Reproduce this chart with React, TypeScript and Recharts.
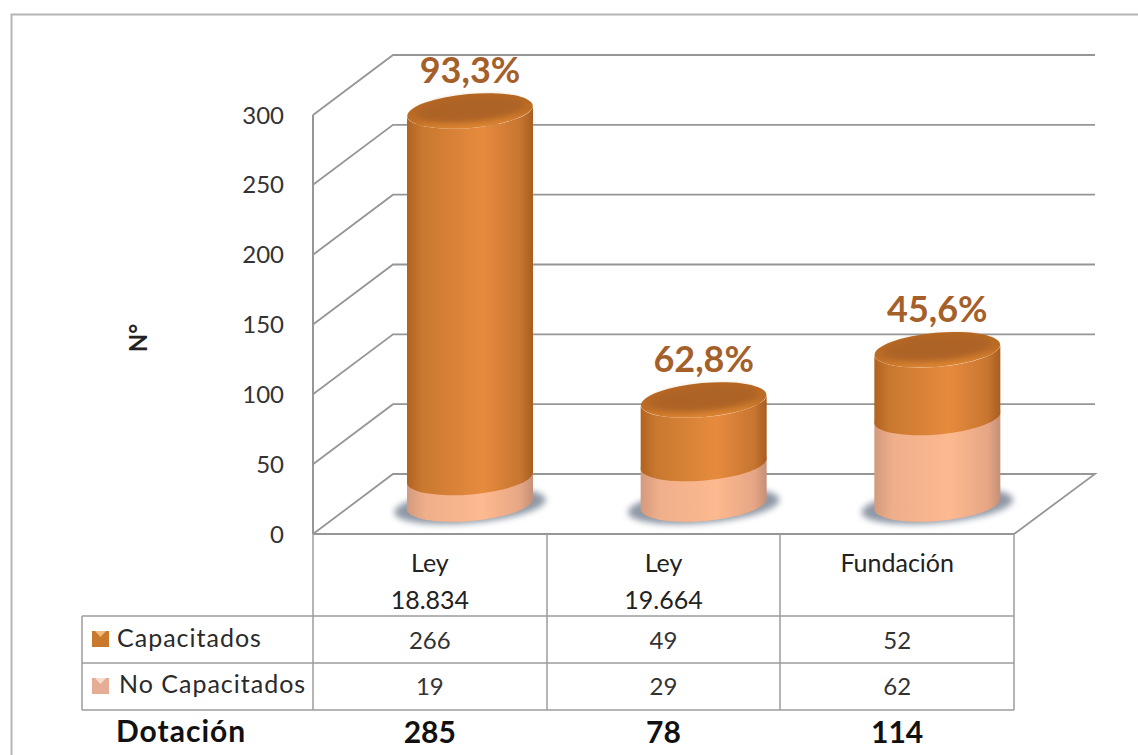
import { BarChart, Bar, XAxis, YAxis, CartesianGrid, LabelList } from "recharts";

const categories = ["Ley 18.834", "Ley 19.664", "Fundación"];
const capacitados = [266, 49, 52];
const noCapacitados = [19, 29, 62];
const dotacion = [285, 78, 114];
const porcentajes = ["93,3%", "62,8%", "45,6%"];
const yTicks = [0, 50, 100, 150, 200, 250, 300];

const data = categories.map((name, i) => ({
  name,
  capacitados: capacitados[i],
  noCapacitados: noCapacitados[i],
  pct: porcentajes[i],
}));

const FONT = "Lato, 'Open Sans', sans-serif";
const GRID = "#969696";
const TABLE = "#9c9c9c";
// depth of the fake 3D box, and where the cylinders stand inside it
const BACK_DX = 80;
const BACK_DY = -60;
const BAR_DX = 40;
const BAR_DY = -30;
const CAP_DROP = 5;
const RY = 17;
const TILT = -5;

function Cylinder(props: any) {
  const { x, y, width, height, isTop } = props;
  const cx = x + width / 2 + BAR_DX;
  const rx = width / 2;
  const top = y + BAR_DY + (isTop ? CAP_DROP : 0);
  const bottom = y + height + BAR_DY;
  const lift = rx * Math.sin((TILT * Math.PI) / 180);
  const lx = cx - rx;
  const rightX = cx + rx;
  const arc = `A ${rx} ${RY} ${TILT} 0`;
  const side = `M ${lx} ${top - lift} L ${lx} ${bottom - lift} ${arc} 0 ${rightX} ${bottom + lift} L ${rightX} ${top + lift} ${arc} ${isTop ? 1 : 0} ${lx} ${top - lift} Z`;
  return (
    <g>
      {!isTop && (
        <ellipse
          cx={cx}
          cy={bottom + 2}
          rx={rx + 13}
          ry={RY}
          transform={`rotate(${TILT} ${cx} ${bottom + 2})`}
          fill="#8f98a6"
          filter="url(#soft)"
        />
      )}
      <path d={side} fill={isTop ? "url(#orangeSide)" : "url(#peachSide)"} />
      {isTop && (
        <g transform={`rotate(${TILT} ${cx} ${top})`}>
          <ellipse cx={cx} cy={top} rx={rx} ry={RY} fill="url(#capRim)" />
          <ellipse cx={cx} cy={top - 2} rx={rx - 9} ry={RY - 5} fill="#ae6327" filter="url(#softer)" />
        </g>
      )}
    </g>
  );
}

// each grid line runs from the front axis to the back wall
function GridLine(props: any) {
  const { x1, x2, y1 } = props;
  const back = `M ${x1} ${y1} L ${x1 + BACK_DX} ${y1 + BACK_DY} L ${x2 + BACK_DX + 1} ${y1 + BACK_DY}`;
  const d = y1 >= 530 ? `${back} L ${x2} ${y1}` : back;
  return <path d={d} fill="none" stroke={GRID} strokeWidth={1.8} />;
}

function ColumnTick(props: any) {
  const { x, payload, index } = props;
  const i = payload.index ?? index;
  const lines = String(payload.value).split(" ");
  const cell = { fontFamily: FONT, fontSize: 24, textAnchor: "middle" as const, fill: "#333" };
  return (
    <g>
      {lines.map((line, n) => (
        <text key={line} x={x} y={572 + n * 37} {...cell} fontSize={25} fill="#222">
          {line}
        </text>
      ))}
      <text x={x} y={649} {...cell}>
        {capacitados[i]}
      </text>
      <text x={x} y={695} {...cell}>
        {noCapacitados[i]}
      </text>
      <text x={x} y={743} fontFamily={FONT} fontSize={30} fontWeight={700} textAnchor="middle" fill="#111">
        {dotacion[i]}
      </text>
    </g>
  );
}

function PctLabel(props: any) {
  const { x, y, width, value } = props;
  return (
    <text
      x={x + width / 2 + BAR_DX}
      y={y - 53}
      fontFamily={FONT}
      fontSize={36}
      fontWeight={700}
      textAnchor="middle"
      fill="#a5602a"
    >
      {value}
    </text>
  );
}

function LegendKey({ y, color, light }: { y: number; color: string; light: string }) {
  return (
    <g>
      <rect x={92} y={y} width={17} height={16} fill={color} />
      <path d={`M 95 ${y} L 100.5 ${y + 6} L 106 ${y} Z`} fill={light} />
    </g>
  );
}

function TableOverlay() {
  const lines = [
    "M 82 616 H 1014",
    "M 82 663 H 1014",
    "M 82 710 H 1014",
    "M 82 616 V 710",
    "M 313 534 V 710",
    "M 547 534 V 710",
    "M 780 534 V 710",
    "M 1014 534 V 710",
  ];
  const rowLabel = { fontFamily: FONT, fontSize: 25, letterSpacing: 1, fill: "#2a2a2a" };
  return (
    <svg width={1138} height={755} style={{ position: "absolute", left: 0, top: 0 }}>
      <path d="M 1138 14.5 H 11.5 V 755" fill="none" stroke="#b5b5b5" strokeWidth={2} />
      {lines.map((d) => (
        <path key={d} d={d} fill="none" stroke={TABLE} strokeWidth={1.5} />
      ))}
      <text x={147} y={338} transform="rotate(-90 147 338)" fontFamily={FONT} fontSize={24} fontWeight={700} textAnchor="middle" fill="#222">
        N°
      </text>
      <LegendKey y={631} color="#c9792c" light="#f0bd7c" />
      <text x={117} y={647} {...rowLabel}>Capacitados</text>
      <LegendKey y={678} color="#e6ad95" light="#f6dccd" />
      <text x={119} y={693} {...rowLabel}>No Capacitados</text>
      <text x={116} y={742} fontFamily={FONT} fontSize={30} fontWeight={700} letterSpacing={1} fill="#111">Dotación</text>
    </svg>
  );
}

export default function App() {
  return (
    <div style={{ position: "absolute", left: 0, top: 0, width: 1138, height: 755, background: "#fff" }}>
      <BarChart
        width={1138}
        height={755}
        data={data}
        barSize={126}
        margin={{ top: 115, right: 124, bottom: 21, left: 253 }}
      >
        <defs>
          <linearGradient id="orangeSide" x1="0" y1="0" x2="1" y2="0">
            <stop offset="0" stopColor="#b0621f" />
            <stop offset="0.12" stopColor="#c97830" />
            <stop offset="0.6" stopColor="#e68b3e" />
            <stop offset="0.9" stopColor="#c77530" />
            <stop offset="1" stopColor="#a85d20" />
          </linearGradient>
          <linearGradient id="peachSide" x1="0" y1="0" x2="1" y2="0">
            <stop offset="0" stopColor="#d49a7e" />
            <stop offset="0.15" stopColor="#efaf8a" />
            <stop offset="0.6" stopColor="#fdb98f" />
            <stop offset="0.9" stopColor="#e6a685" />
            <stop offset="1" stopColor="#c49078" />
          </linearGradient>
          <linearGradient id="capRim" x1="0" y1="0" x2="0" y2="1">
            <stop offset="0" stopColor="#b5661f" />
            <stop offset="0.6" stopColor="#bd6d26" />
            <stop offset="1" stopColor="#dc8533" />
          </linearGradient>
          <filter id="soft" x="-20%" y="-50%" width="140%" height="200%">
            <feGaussianBlur stdDeviation="3" />
          </filter>
          <filter id="softer" x="-20%" y="-50%" width="140%" height="200%">
            <feGaussianBlur stdDeviation="2.5" />
          </filter>
        </defs>
        <CartesianGrid vertical={false} horizontal={(p: any) => <GridLine key={p.y1} {...p} />} />
        <XAxis
          dataKey="name"
          height={200}
          axisLine={{ stroke: GRID, strokeWidth: 2 }}
          tickLine={false}
          interval={0}
          tick={(p: any) => <ColumnTick {...p} />}
        />
        <YAxis
          width={60}
          domain={[0, 300]}
          ticks={yTicks}
          axisLine={{ stroke: GRID, strokeWidth: 2 }}
          tickLine={false}
          tickMargin={23}
          tick={{ fontFamily: FONT, fontSize: 24, fill: "#333" }}
        />
        <Bar
          dataKey="noCapacitados"
          stackId="a"
          isAnimationActive={false}
          shape={(p: any) => <Cylinder {...p} />}
        />
        <Bar
          dataKey="capacitados"
          stackId="a"
          isAnimationActive={false}
          shape={(p: any) => <Cylinder {...p} isTop />}
        >
          <LabelList dataKey="pct" content={(p: any) => <PctLabel {...p} />} />
        </Bar>
      </BarChart>
      <TableOverlay />
    </div>
  );
}
